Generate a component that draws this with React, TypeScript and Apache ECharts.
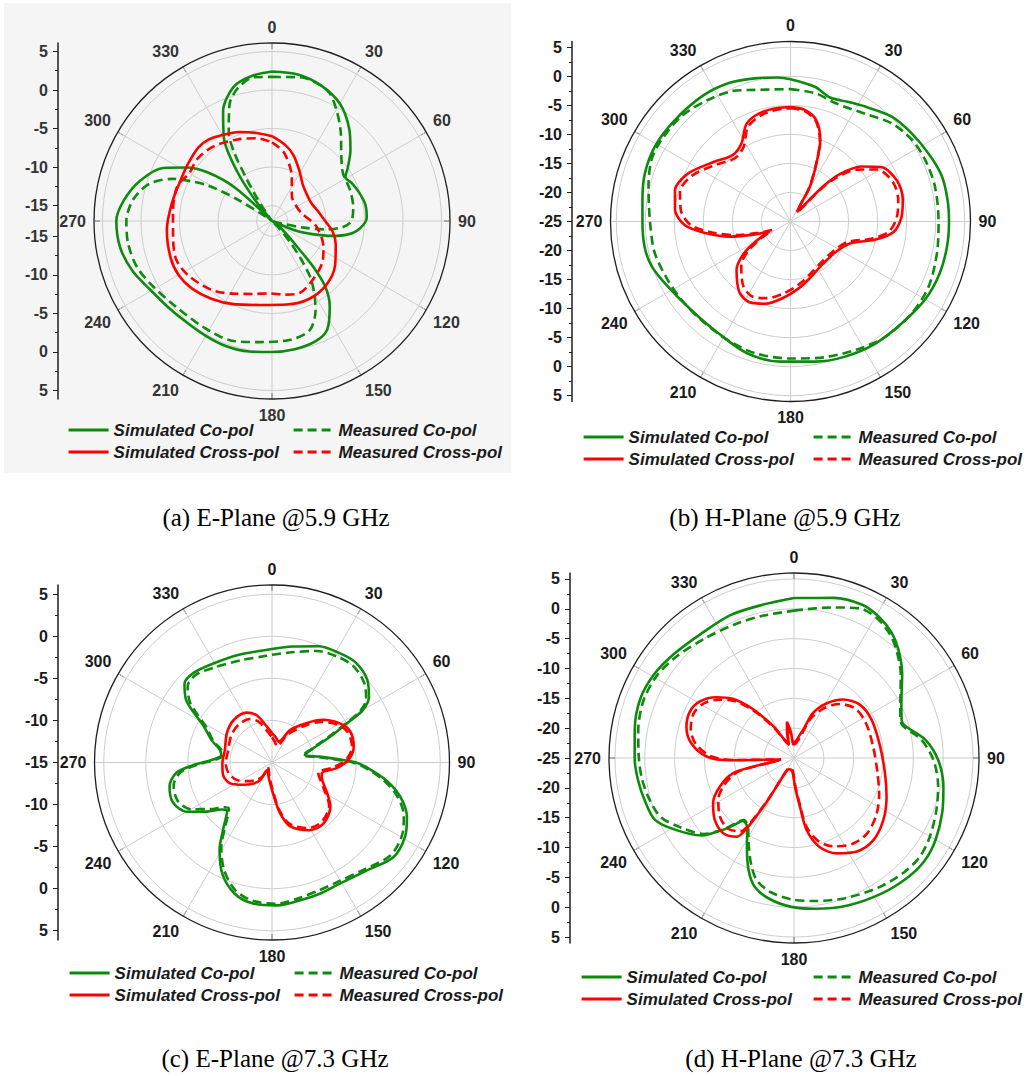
import React, { useEffect, useRef } from 'react';
import * as echarts from 'echarts';

// ---------------- DATA (gain in dB vs angle in degrees) ----------------
// (a) E-Plane @5.9 GHz
const A_SIM_CO_ANG = [0,10,20,30,40,48,55,59,65,72,80,88,95,100,104,108,112,118,126,132,136,138,141,146,153,160,170,180,190,200,210,220,230,240,250,260,270,278,287,296,302,307,312,317,321,325,330,336,344,352,360];
const A_SIM_CO = [2.4,2.3,1.7,0.6,-1.4,-3.3,-5.0,-5.9,-5.5,-5.1,-4.7,-4.7,-5.6,-7.0,-9.0,-11.5,-13.5,-17,-16,-14.5,-12,-9,-6.0,-3.6,-1.2,-0.4,-0.1,0.0,0.2,0.3,0.2,0.2,0.5,1.1,2.2,3.0,3.2,2.4,0.9,-1.3,-3.9,-6.5,-10.5,-17,-13.5,-9.0,-4.5,-1.4,1.1,2.0,2.4];
const A_MEAS_CO_ANG = [0,11,23,30,38,47,56,68,80,90,95,99,102,105,110,120,130,136,140,143,146,150,154,161,171,186,199,213,228,241,251,261,270,279,287,293,296,299,302,305,315,325,327,329,331,334,340,346,353,360];
const A_MEAS_CO = [1.7,2.0,1.4,-0.3,-2.5,-4.7,-5.9,-6.1,-6.3,-6.7,-7.8,-10,-13,-16,-17,-17,-17,-15.5,-13,-10.5,-8,-6,-4.1,-2.0,-1.4,-1.2,-0.6,-0.6,-0.3,0.6,1.5,1.9,1.9,1.2,-0.4,-3.0,-5.2,-7.5,-11.5,-16,-17,-15.5,-13,-10.5,-7,-4.2,-0.9,0.9,1.8,1.7];
const A_SIM_X_ANG = [0,10,18,28,40,52,65,78,90,100,110,125,140,155,170,188,205,218,230,240,250,265,280,295,305,315,322,330,340,350,360];
const A_SIM_X = [-6.0,-7.0,-8.0,-9.5,-10.8,-11.3,-11.4,-10.9,-10.1,-9.0,-8.2,-7.0,-6.1,-5.8,-6.0,-6.0,-5.1,-4.2,-3.4,-3.0,-3.0,-3.3,-3.8,-4.0,-3.8,-3.5,-3.6,-4.1,-4.7,-5.4,-6.0];
const A_MEAS_X_ANG = [0,10,24,39,60,76,97,117,130,149,159,170,182,195,206,220,236,248,261,275,290,300,310,322,337,350,360];
const A_MEAS_X = [-6.8,-8.0,-10.7,-12.9,-13.3,-13.0,-11.2,-9.5,-8.5,-7.5,-7.0,-7.3,-7.6,-7.2,-6.5,-5.2,-4.1,-3.6,-4.0,-4.1,-3.9,-4.6,-4.4,-4.7,-5.5,-6.1,-6.8];
const A_Y_TICKS = [5, 0, -5, -10, -15];

// (b) H-Plane @5.9 GHz
const B_SIM_CO_ANG = [0,10,18,25,33,44,54,64,73,82,90,99,109,120,132,145,158,170,184,198,213,228,242,252,260,270,278,288,299,311,325,336,346,355,360];
const B_SIM_CO = [-0.5,-1.4,-2.6,-2.2,-1.4,0.1,0.8,1.5,2.2,2.3,2.3,2.3,2.2,1.8,1.0,0.6,0.1,-0.5,-0.8,-1.1,-2.1,-2.1,-1.1,0.1,0.5,0.5,0.75,1.4,1.7,1.5,1.4,1.1,0.4,-0.1,-0.5];
const B_MEAS_CO_ANG = [0,11,21,35,46,56,65,76,90,102,115,127,141,153,166,180,195,208,222,234,244,257,270,284,294,302,314,326,336,342,360];
const B_MEAS_CO = [-2.2,-2.5,-3.2,-2.4,-0.7,0.2,0.5,0.6,0.5,0.8,1.3,1.2,0.7,-0.2,-0.9,-1.4,-1.5,-1.9,-2.1,-1.9,-1.6,-1.0,-0.8,0.2,1.2,1.3,1.1,0.3,-0.4,-1.2,-2.2];
const B_X_ANG = [0,7,14,20,24,29,31,34,38,41,43,46,52,59,69,79,88,96,102,110,124,143,160,173,186,197,207,216,228,235,240,245,250,256,262,268,276,285,295,308,316,321,328,336,346,358,360];
const B_SIM_X = [-5.3,-5.6,-6.9,-10.0,-14.0,-18.1,-22.0,-23.0,-22.5,-20.0,-16.5,-13.3,-9.6,-6.8,-5.35,-5.3,-5.9,-7.2,-10.0,-14.0,-15.6,-15.8,-14.8,-13.4,-11.7,-10.2,-9.4,-10.0,-12.5,-15.0,-18.0,-21.0,-18.5,-14.2,-10.4,-6.8,-5.0,-4.4,-5.5,-8.3,-9.6,-9.85,-9.1,-6.5,-5.5,-5.3,-5.3];
const B_MEAS_X = [-5.5,-5.8,-7.1,-10.2,-14.2,-18.3,-21.8,-22.6,-22.8,-21,-17.5,-14.3,-10.5,-7.6,-6.1,-6.1,-6.7,-8.0,-10.8,-14.6,-16.0,-16.2,-15.3,-14.0,-12.5,-11.2,-10.5,-11.2,-13.6,-16,-19,-21.5,-19.5,-15.3,-11.4,-7.8,-6.0,-5.3,-6.3,-9.0,-10.3,-10.5,-9.8,-7.1,-5.9,-5.5,-5.5];
const B_Y_TICKS = [5, 0, -5, -10, -15, -20, -25];

// (c) E-Plane @7.3 GHz
const C_CO_ANG = [0,10,22,32,40,49,56,60,62,66,71,77,83,88,90,93,99,105,112,119,128,139,151,160,168,178,188,196,204,211,216,223,227,233,240,248,257,264,268,273,278,284,290,298,306,312,319,329,343,357,360];
const C_SIM_CO = [-1.5,-1.0,-0.1,0.3,0.5,0.0,-1.1,-2.5,-4.5,-7.4,-9.8,-11.0,-9.3,-6.5,-5.0,-3.7,-1.2,0.8,2.3,3.1,3.3,2.05,1.5,1.6,1.7,2.0,1.9,1.2,-0.5,-2.9,-5.1,-7.2,-6.8,-5.3,-3.3,-2.3,-2.5,-3.6,-5.6,-8.0,-8.9,-8.6,-7.4,-5.8,-2.4,-1.0,-0.85,-1.3,-1.6,-1.6,-1.5];
const C_MEAS_CO = [-2.2,-1.7,-0.7,-0.2,0.0,-0.5,-1.5,-3.0,-5.0,-7.8,-10.0,-11.2,-9.6,-7.0,-5.4,-4.0,-1.6,0.4,1.9,2.7,2.9,1.8,1.2,1.2,1.4,1.8,1.6,0.8,-1.0,-3.3,-5.5,-7.5,-7.2,-5.8,-3.9,-2.9,-3.0,-4.1,-6.0,-8.3,-9.1,-8.8,-7.6,-6.2,-3.0,-1.5,-1.2,-1.8,-2.3,-2.3,-2.2];
const C_X_ANG = [0,9,17,23,29,41,50,60,68,79,88,95,102,106,119,127,140,151,164,171,178,189,200,212,214,222,232,244,256,269,285,303,318,333,342,352,360];
const C_SIM_X = [-11.5,-12.0,-12.4,-12.1,-10.6,-8.8,-7.1,-5.7,-5.0,-5.1,-5.9,-7.3,-8.95,-8.85,-7.5,-6.3,-5.5,-5.8,-7.1,-8.9,-11.3,-12.9,-13.6,-13.9,-12.5,-11.6,-10.7,-9.4,-9.0,-9.1,-9.2,-8.6,-8.2,-8.35,-9.1,-10.7,-11.5];
const C_MEAS_X = [-12.0,-12.6,-13.0,-12.6,-11.2,-9.3,-7.5,-6.0,-5.3,-5.3,-6.2,-7.8,-9.4,-9.2,-7.8,-6.5,-5.8,-6.1,-7.4,-9.2,-11.6,-13.2,-13.9,-14.2,-13.0,-12.2,-11.4,-10.3,-9.7,-9.5,-9.6,-9.2,-9.0,-9.2,-9.9,-11.3,-12.0];
const C_Y_TICKS = [5, 0, -5, -10, -15];

// (d) H-Plane @7.3 GHz
const D_CO_ANG = [0,14,24,31,38,44,52,60,66,71,74,82,91,101,110,120,128,136,147,160,172,181,190,197,202,208,214,219,222,225,230,239,246,254,262,270,280,291,301,311,323,336,348,360];
const D_SIM_CO = [1.8,2.65,3.1,2.6,1.6,0.2,-2.0,-4.2,-5.3,-5.9,-5.6,-2.8,-0.8,0.5,1.45,2.4,2.85,2.65,2.05,1.3,0.5,-0.05,-1.05,-2.45,-4.7,-8.2,-11.0,-11.4,-9.8,-7.9,-4.8,-1.7,0.5,1.0,1.4,1.7,2.1,2.6,2.3,1.6,1.0,1.2,1.2,1.8];
const D_MEAS_CO = [-0.3,1.0,2.4,2.2,1.2,-0.2,-2.3,-4.4,-5.5,-6.1,-5.9,-3.4,-1.6,-0.4,0.4,1.3,1.8,1.6,0.9,0.0,-0.8,-1.3,-2.2,-3.6,-5.8,-8.8,-11.2,-11.6,-10.2,-8.0,-5.2,-2.6,-0.6,0.2,0.7,1.0,1.5,2.0,1.8,1.0,0.0,-0.5,-0.6,-0.3];
const D_X_ANG = [0,8,14,18,23,31,40,51,64,82,100,113,125,136,146,156,164,170,173,178,185,200,210,212,214,216,223,232,241,249,256,258,260,264,268,271,278,286,294,301,308,314,319,323,327,333,340,345,349,353,357,360];
const D_SIM_X = [-22.5,-22,-21,-20.0,-16.8,-14.3,-12.2,-10.8,-10.5,-10.45,-9.5,-8.15,-6.75,-5.85,-6.1,-7.5,-9.5,-12.7,-16.8,-20.2,-22.5,-23,-22.5,-16,-10.5,-8.7,-7.7,-8.15,-9.5,-11.7,-14.5,-18,-21.5,-22.7,-14.3,-10.35,-7.65,-6.25,-5.9,-6.6,-8.45,-10.7,-13.65,-16.4,-18.7,-21.6,-22.5,-20.5,-18.8,-20.5,-22.5,-22.5];
const D_MEAS_X = [-22.8,-22.5,-21.8,-20.8,-17.8,-15.3,-13.2,-11.8,-11.6,-11.6,-10.8,-9.5,-8.2,-7.4,-7.6,-8.8,-10.6,-13.5,-17.3,-20.6,-22.8,-23.2,-22.8,-17,-11.8,-9.8,-8.8,-9.2,-10.5,-12.5,-15.2,-18.5,-21.8,-22.8,-15.2,-11.2,-8.4,-7.0,-6.6,-7.3,-9.1,-11.3,-14.2,-16.9,-19.2,-21.9,-22.7,-21.0,-19.6,-21.0,-22.7,-22.8];
const D_Y_TICKS = [5, 0, -5, -10, -15, -20, -25];

const SERIES_NAMES = ['Simulated Co-pol', 'Measured Co-pol', 'Simulated Cross-pol', 'Measured Cross-pol'];

// ---------------- LAYOUT / STYLE ----------------
const GREEN = '#0e8a0e';
const RED = '#ff0000';
const DASH = [9, 5];
const AXIS_COLOR = '#1e1e1e';
const GRID_COLOR = '#cdcdcd';
const LABEL_FONT = 'Liberation Sans';

const PANELS = [
  { cx: 272, cy: 221, R: 178, rmin: -17, rmax: 6.1, axisX: 58, legendTop: 421, col1X: 67, col2X: 292,
    caption: '(a) E-Plane @5.9 GHz', capX: 276, capY: 517, yTicks: A_Y_TICKS, labelColor: '#333',
    curves: [[A_SIM_CO, A_SIM_CO_ANG], [A_MEAS_CO, A_MEAS_CO_ANG], [A_SIM_X, A_SIM_X_ANG], [A_MEAS_X, A_MEAS_X_ANG]] },
  { cx: 790.5, cy: 221.5, R: 180, rmin: -25, rmax: 6, axisX: 572, legendTop: 428, col1X: 582, col2X: 812,
    caption: '(b) H-Plane @5.9 GHz', capX: 785, capY: 517, yTicks: B_Y_TICKS, labelColor: '#1a1a1a',
    curves: [[B_SIM_CO, B_SIM_CO_ANG], [B_MEAS_CO, B_MEAS_CO_ANG], [B_SIM_X, B_X_ANG], [B_MEAS_X, B_X_ANG]] },
  { cx: 272, cy: 762.5, R: 177.5, rmin: -15, rmax: 6.1, axisX: 58, legendTop: 964, col1X: 68, col2X: 293,
    caption: '(c) E-Plane @7.3 GHz', capX: 275, capY: 1058, yTicks: C_Y_TICKS, labelColor: '#1a1a1a',
    curves: [[C_SIM_CO, C_CO_ANG], [C_MEAS_CO, C_CO_ANG], [C_SIM_X, C_X_ANG], [C_MEAS_X, C_X_ANG]] },
  { cx: 794, cy: 758, R: 185, rmin: -25, rmax: 6, axisX: 570, legendTop: 968, col1X: 580, col2X: 812,
    caption: '(d) H-Plane @7.3 GHz', capX: 801, capY: 1058, yTicks: D_Y_TICKS, labelColor: '#1a1a1a',
    curves: [[D_SIM_CO, D_CO_ANG], [D_MEAS_CO, D_CO_ANG], [D_SIM_X, D_X_ANG], [D_MEAS_X, D_X_ANG]] },
];

const CURVE_STYLES = [
  { color: GREEN, type: 'solid' },
  { color: GREEN, type: DASH },
  { color: RED, type: 'solid' },
  { color: RED, type: DASH },
];

function buildOption() {
  const polar: any[] = [];
  const angleAxis: any[] = [];
  const radiusAxis: any[] = [];
  const grid: any[] = [];
  const xAxis: any[] = [];
  const yAxis: any[] = [];
  const series: any[] = [];
  const legend: any[] = [];
  const graphic: any[] = [
    { type: 'rect', z: -100, silent: true, shape: { x: 4, y: 3, width: 507, height: 470 }, style: { fill: '#f5f5f5' } },
  ];

  const legendCommon = {
    orient: 'vertical',
    itemWidth: 40,
    itemHeight: 14,
    itemGap: 4,
    padding: 0,
    selectedMode: false,
    itemStyle: { color: 'rgba(0,0,0,0)', borderWidth: 0, opacity: 0 },
    lineStyle: { width: 3.2 },
    textStyle: { fontFamily: LABEL_FONT, fontWeight: 'bold', fontStyle: 'italic', fontSize: 17, lineHeight: 18, color: '#1a1a1a' },
  };

  PANELS.forEach((p, i) => {
    polar.push({ center: [p.cx, p.cy], radius: p.R });
    angleAxis.push({
      polarIndex: i, type: 'value', min: 0, max: 360, interval: 30, startAngle: 90, clockwise: true,
      axisLine: { show: true, lineStyle: { color: AXIS_COLOR, width: 1.3 } },
      axisTick: { show: true, inside: true, length: 6, lineStyle: { color: AXIS_COLOR, width: 1 } },
      axisLabel: { show: true, margin: 8, fontSize: 16, fontWeight: 'bold', color: p.labelColor, fontFamily: LABEL_FONT,
        formatter: (v: number) => (v === 360 ? '' : String(v)) },
      splitLine: { show: true, lineStyle: { color: GRID_COLOR, width: 1 } },
    });
    const radiusCfg: any = {
      polarIndex: i, type: 'value', min: p.rmin, max: p.rmax,
      axisLine: { show: false },
      axisTick: { show: false, customValues: p.yTicks },
      axisLabel: { show: false },
      splitLine: { show: true, lineStyle: { color: GRID_COLOR, width: 1 } },
    };
    if (p.rmin % 5 === 0) radiusCfg.interval = 5; else radiusCfg.splitNumber = 5;
    radiusAxis.push(radiusCfg);

    // left-hand mirrored dB scale
    const span = p.rmax - p.rmin;
    const majors: number[] = [];
    const minors: number[] = [];
    p.yTicks.forEach((t) => { const d = t - p.rmin; majors.push(d); if (d > 0) majors.push(-d); });
    for (let k = 0; k < p.yTicks.length - 1; k++) {
      const d = (p.yTicks[k] + p.yTicks[k + 1]) / 2 - p.rmin;
      minors.push(d, -d);
    }
    grid.push({ left: p.axisX, top: p.cy - p.R, width: 20, height: 2 * p.R, containLabel: false, outerBoundsMode: 'none' });
    xAxis.push({ gridIndex: i, type: 'value', show: false, min: 0, max: 1 });
    yAxis.push({
      gridIndex: i, type: 'value', min: -span, max: span, position: 'left',
      axisLine: { show: true, onZero: false, lineStyle: { color: AXIS_COLOR, width: 1.5 } },
      axisTick: { show: true, length: 5, customValues: majors, lineStyle: { color: AXIS_COLOR, width: 1 } },
      axisLabel: { show: true, customValues: majors, margin: 10, fontSize: 16, fontWeight: 'bold', color: p.labelColor, fontFamily: LABEL_FONT,
        formatter: (v: number) => String(Math.round(p.rmin + Math.abs(v))) },
      splitLine: { show: false },
    });
    yAxis.push({
      gridIndex: i, type: 'value', min: -span, max: span, position: 'left',
      axisLine: { show: false, onZero: false },
      axisTick: { show: true, length: 3, customValues: minors, lineStyle: { color: AXIS_COLOR, width: 1 } },
      axisLabel: { show: false },
      splitLine: { show: false },
    });

    p.curves.forEach(([vals, angs], k) => {
      const st = CURVE_STYLES[k];
      series.push({
        type: 'line', name: SERIES_NAMES[k], coordinateSystem: 'polar', polarIndex: i,
        data: vals.map((v: number, j: number) => [v, angs[j]]),
        symbol: 'none', showSymbol: false, smooth: 0.3, clip: false,
        lineStyle: { color: st.color, width: 2.6, type: st.type },
        itemStyle: { color: st.color },
        emphasis: { disabled: true },
        z: 3,
      });
    });

    legend.push({ ...legendCommon, data: [SERIES_NAMES[0], SERIES_NAMES[2]], left: p.col1X, top: p.legendTop });
    legend.push({ ...legendCommon, data: [SERIES_NAMES[1], SERIES_NAMES[3]], left: p.col2X, top: p.legendTop });

    graphic.push({
      type: 'text', x: p.capX, y: p.capY, silent: true,
      style: { text: p.caption, fontFamily: 'Liberation Serif', fontSize: 25, fill: '#000', align: 'center', verticalAlign: 'middle' },
    });
  });

  return {
    animation: false,
    backgroundColor: '#ffffff',
    polar, angleAxis, radiusAxis, grid, xAxis, yAxis, series, legend, graphic,
  };
}

export default function App() {
  const ref = useRef<HTMLDivElement>(null);
  useEffect(() => {
    document.body.style.margin = '0';
    if (!ref.current) return;
    const chart = echarts.init(ref.current, undefined, { renderer: 'svg' });
    chart.setOption(buildOption() as any);
    return () => chart.dispose();
  }, []);
  return <div ref={ref} style={{ width: 1030, height: 1076 }} />;
}
